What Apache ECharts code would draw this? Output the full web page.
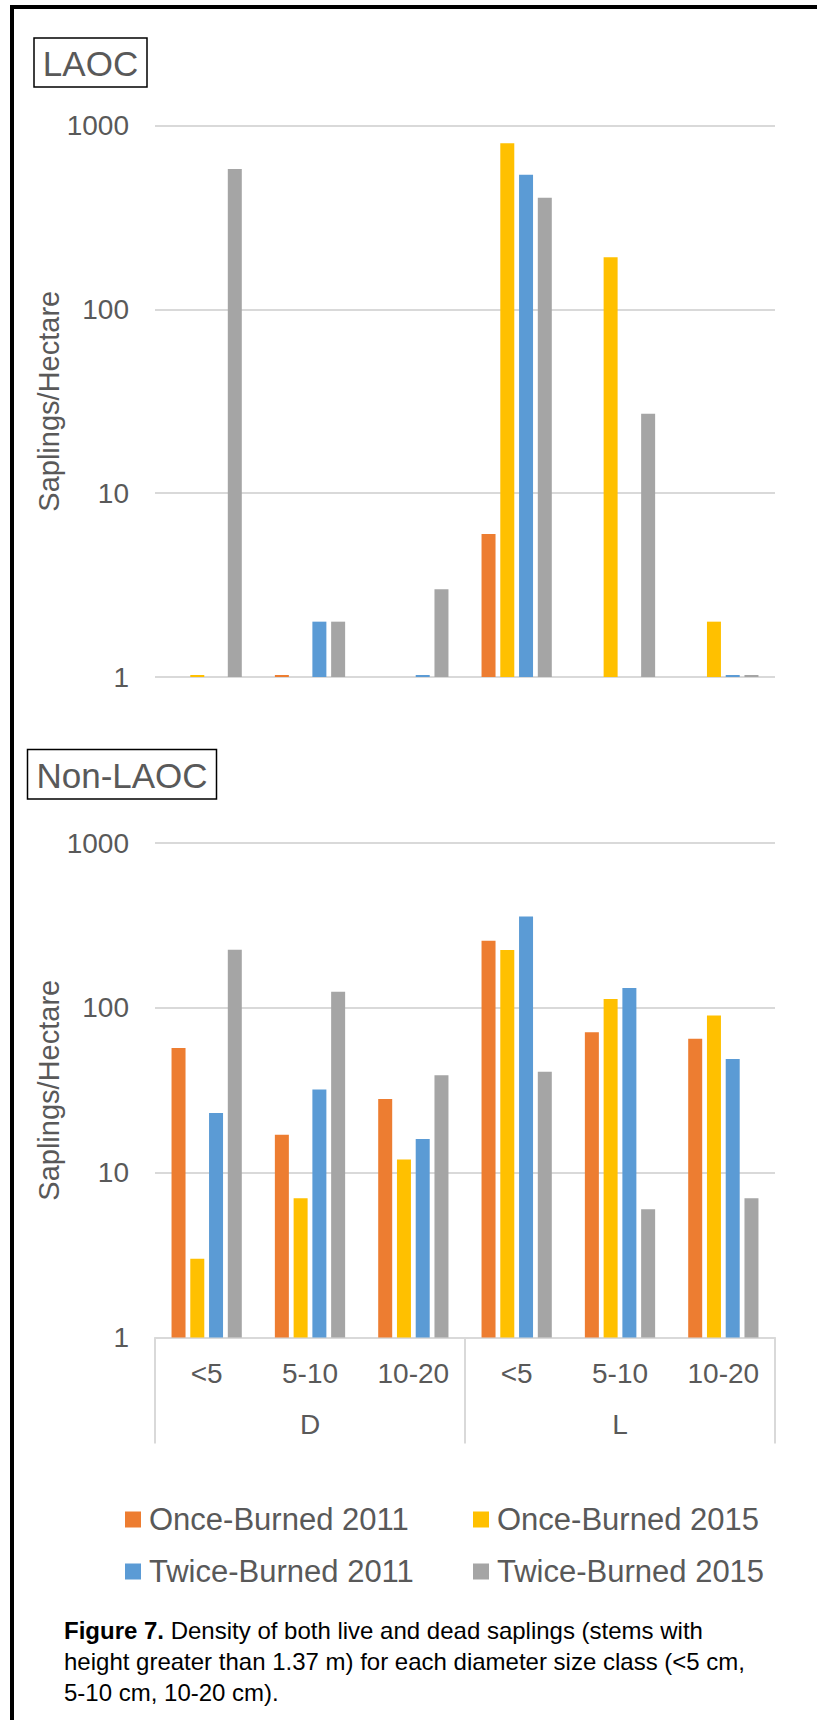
<!DOCTYPE html>
<html><head><meta charset="utf-8">
<script src="https://cdn.jsdelivr.net/npm/echarts@6/dist/echarts.min.js"></script>
<style>html,body{margin:0;padding:0;background:#fff}#c{width:817px;height:1720px}</style>
</head><body><div id="c"></div>
<script>
// ---- data ----
const sizeClasses = ['<5', '5-10', '10-20', '<5', '5-10', '10-20'];
const statusGroups = ['D', 'L'];
const seriesNames = ['Once-Burned 2011', 'Once-Burned 2015', 'Twice-Burned 2011', 'Twice-Burned 2015'];
const seriesColors = ['#ED7D31', '#FFC000', '#5B9BD5', '#A5A5A5'];
// LAOC panel (null = no saplings)
const laocOnce2011  = [null, 1, null, 6, null, null];
const laocOnce2015  = [1, null, null, 800, 192, 2];
const laocTwice2011 = [null, 2, 1, 540, null, 1];
const laocTwice2015 = [580, 2, 3, 405, 27, 1];
// Non-LAOC panel
const nonOnce2011  = [57, 17, 28, 255, 71, 65];
const nonOnce2015  = [3, 7, 12, 224, 113, 90];
const nonTwice2011 = [23, 32, 16, 358, 132, 49];
const nonTwice2015 = [225, 125, 39, 41, 6, 7];
const panelTitles = ['LAOC', 'Non-LAOC'];
const yAxisTitle = 'Saplings/Hectare';
const captionBold = 'Figure 7.';
const captionLines = [
  ' Density of both live and dead saplings (stems with',
  'height greater than 1.37 m) for each diameter size class (<5 cm,',
  '5-10 cm, 10-20 cm).'
];

const FONT = 'Liberation Sans, Arial, sans-serif';
const TXT = '#595959';
const GRID = '#D9D9D9';

const laocData = [laocOnce2011, laocOnce2015, laocTwice2011, laocTwice2015];
const nonData = [nonOnce2011, nonOnce2015, nonTwice2011, nonTwice2015];

function yAxis(gridIndex) {
  return {
    type: 'log', logBase: 10, min: 1, max: 1000, gridIndex: gridIndex,
    name: yAxisTitle, nameLocation: 'middle', nameRotate: 90, nameGap: 92,
    nameMoveOverlap: false,
    nameTextStyle: { fontFamily: FONT, fontSize: 29, color: TXT },
    axisLine: { show: false }, axisTick: { show: false },
    axisLabel: { fontFamily: FONT, fontSize: 28, color: TXT, margin: 26,
      formatter: function (v) { return String(Math.round(v)); } },
    splitLine: { show: true, lineStyle: { color: GRID, width: 2 } }
  };
}

const series = [];
seriesNames.forEach((n, i) => {
  series.push({
    name: n, type: 'bar', xAxisIndex: 0, yAxisIndex: 0,
    data: laocData[i], barCategoryGap: '32%', barGap: '34%', barMinHeight: 2,
    itemStyle: { color: seriesColors[i] }
  });
});
seriesNames.forEach((n, i) => {
  series.push({
    name: n, type: 'bar', xAxisIndex: 1, yAxisIndex: 1,
    data: nonData[i], barCategoryGap: '32%', barGap: '34%',
    itemStyle: { color: seriesColors[i] }
  });
});

const legendCommon = {
  orient: 'vertical', itemWidth: 16, itemHeight: 16, itemGap: 21,
  icon: 'rect', selectedMode: false,
  textStyle: { fontFamily: FONT, fontSize: 31, color: TXT, padding: [0, 0, 0, 3] }
};

const chart = echarts.init(document.getElementById('c'), null, { renderer: 'svg' });
chart.setOption({
  backgroundColor: '#fff',
  animation: false,
  grid: [
    { left: 155, width: 620, top: 125.5, height: 551.5 },
    { left: 155, width: 620, top: 843, height: 494.5 }
  ],
  xAxis: [
    { type: 'category', gridIndex: 0, data: sizeClasses,
      axisLine: { show: false }, axisTick: { show: false }, axisLabel: { show: false } },
    { type: 'category', gridIndex: 1, data: sizeClasses, position: 'bottom',
      axisLine: { show: true, lineStyle: { color: GRID, width: 2 } },
      axisTick: { show: false },
      axisLabel: { fontFamily: FONT, fontSize: 28, color: TXT, margin: 22, interval: 0 } },
    { type: 'category', gridIndex: 1, data: statusGroups, position: 'bottom',
      axisLine: { show: false },
      axisTick: { show: true, length: 106, lineStyle: { color: GRID, width: 2 } },
      axisLabel: { fontFamily: FONT, fontSize: 28, color: TXT, margin: 73, interval: 0 } }
  ],
  yAxis: [yAxis(0), yAxis(1)],
  legend: [
    Object.assign({}, legendCommon, { left: 120, top: 1499, data: [seriesNames[0], seriesNames[2]] }),
    Object.assign({}, legendCommon, { left: 468, top: 1499, data: [seriesNames[1], seriesNames[3]] })
  ],
  series: series,
  graphic: [
    { type: 'rect', silent: true, shape: { x: 12, y: 7, width: 900, height: 1800 },
      style: { fill: 'none', stroke: '#000', lineWidth: 4 } },
    { type: 'rect', silent: true, shape: { x: 34, y: 38, width: 113, height: 49 },
      style: { fill: '#fff', stroke: '#000', lineWidth: 1.5 } },
    { type: 'text', silent: true, x: 90.5, y: 63,
      style: { text: panelTitles[0], fontFamily: FONT, fontSize: 35, fill: TXT, align: 'center', verticalAlign: 'middle' } },
    { type: 'rect', silent: true, shape: { x: 27.5, y: 749.5, width: 189, height: 49.5 },
      style: { fill: '#fff', stroke: '#000', lineWidth: 1.5 } },
    { type: 'text', silent: true, x: 122, y: 775,
      style: { text: panelTitles[1], fontFamily: FONT, fontSize: 35, fill: TXT, align: 'center', verticalAlign: 'middle' } },
    { type: 'text', silent: true, x: 64, y: 1615,
      style: {
        text: '{b|' + captionBold + '}{r|' + captionLines[0] + '}\n{r|' + captionLines[1] + '}\n{r|' + captionLines[2] + '}',
        fontFamily: FONT, fontSize: 24, fill: '#000', lineHeight: 31, align: 'left', verticalAlign: 'top',
        rich: {
          b: { fontFamily: FONT, fontSize: 24, fontWeight: 'bold', fill: '#000', lineHeight: 31 },
          r: { fontFamily: FONT, fontSize: 24, fill: '#000', lineHeight: 31 }
        }
      } }
  ]
});
</script>
</body></html>
